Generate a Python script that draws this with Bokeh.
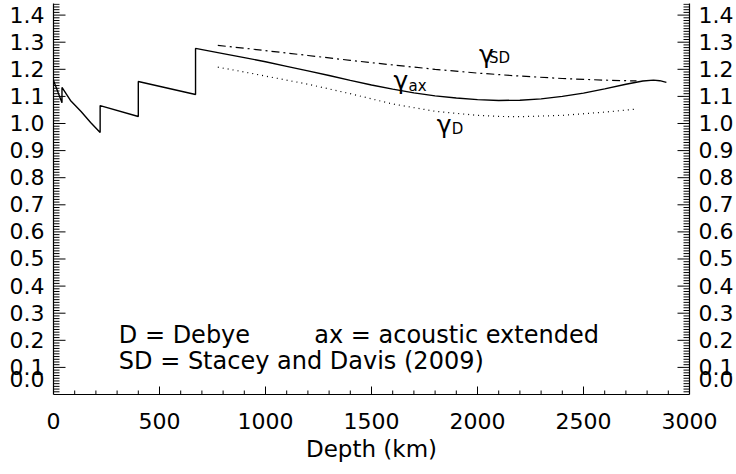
import numpy as np
from bokeh.plotting import figure
from bokeh.models import LinearAxis, SingleIntervalTicker, Range1d, Label, NumeralTickFormatter
from bokeh.embed import file_html
from bokeh.resources import INLINE

# ---- data ----
# gamma_ax (solid): upper mantle segments + lower mantle curve
ax_depth = [0, 40, 40, 80, 130, 175, 220, 220, 400, 400, 670, 670,
            800, 900, 1000, 1100, 1200, 1300, 1400, 1500, 1600, 1700, 1800,
            1900, 2000, 2100, 2200, 2300, 2400, 2500, 2600, 2700, 2780, 2830,
            2860, 2891]
ax_gamma = [1.159, 1.077, 1.133, 1.085, 1.044, 1.004, 0.967, 1.066, 1.026,
            1.155, 1.107, 1.277,
            1.258, 1.243, 1.228, 1.211, 1.194, 1.177, 1.159, 1.142, 1.127,
            1.113, 1.102, 1.094, 1.088, 1.085, 1.086, 1.091, 1.100, 1.112,
            1.128, 1.145, 1.157, 1.160, 1.158, 1.152]

# gamma_SD (dash-dot), Stacey and Davis (2009)
sd_depth = [775, 900, 1000, 1200, 1400, 1600, 1800, 2000, 2200, 2400, 2600, 2750]
sd_gamma = [1.288, 1.278, 1.269, 1.251, 1.233, 1.216, 1.200, 1.186, 1.175,
            1.166, 1.160, 1.157]

# gamma_D (dotted), Debye
d_depth = [775, 900, 1000, 1200, 1400, 1600, 1800, 2000, 2100, 2200, 2400, 2600, 2745]
d_gamma = [1.208, 1.190, 1.175, 1.145, 1.110, 1.072, 1.045, 1.030, 1.026,
           1.025, 1.030, 1.042, 1.053]

X_MAX = 3000
Y_MAX = 1.4428
Y_MAJOR_STEP = 0.1
Y_MINOR_STEP = 0.01
X_MAJOR_STEP = 500
X_MINOR_STEP = 100

FONT = "DejaVu Sans"

W, H = 736, 474
BL, BR, BT, BB = 53, 47, 3, 80

p = figure(width=W, height=H, x_range=Range1d(0, X_MAX),
           y_range=Range1d(0, Y_MAX), output_backend="svg",
           toolbar_location=None, min_border_left=BL, min_border_right=BR,
           min_border_top=BT, min_border_bottom=BB)
p.outline_line_color = None
p.xgrid.visible = False
p.ygrid.visible = False

# inward tick marks: pixel lengths converted to data units of the frame,
# drawn as one NaN-separated polyline
kx = X_MAX / (W - BL - BR)      # km per pixel
ky = Y_MAX / (H - BT - BB)      # gamma per pixel
y_major = [round(v * Y_MAJOR_STEP, 2) for v in range(1, 15)]
y_minor = [round(v * Y_MINOR_STEP, 2) for v in range(1, 145) if v % 10]
x_major = [float(v) for v in range(X_MAJOR_STEP, X_MAX, X_MAJOR_STEP)]
x_minor = [float(v) for v in range(0, X_MAX + 1, X_MINOR_STEP) if v % X_MAJOR_STEP]

nan = float("nan")
tx, ty = [], []
for v in y_major:
    tx += [0.0, 12 * kx, nan, float(X_MAX), X_MAX - 12 * kx, nan]
    ty += [v, v, nan, v, v, nan]
for v in y_minor:
    tx += [0.0, 6 * kx, nan, float(X_MAX), X_MAX - 6 * kx, nan]
    ty += [v, v, nan, v, v, nan]
for v in x_major:
    tx += [v, v, nan]
    ty += [0.0, 8 * ky, nan]
for v in x_minor:
    tx += [v, v, nan]
    ty += [0.0, 4 * ky, nan]
p.line(tx, ty, line_color="black", line_width=1)

p.line(ax_depth, ax_gamma, line_color="black", line_width=1.4)
p.line(sd_depth, sd_gamma, line_color="black", line_width=1.2, line_dash="8 4 2 4")
p.line(d_depth, d_gamma, line_color="black", line_width=1.2, line_dash="1 4")

# x axis
xa = p.xaxis[0]
xa.ticker = SingleIntervalTicker(interval=X_MAJOR_STEP, num_minor_ticks=5)
xa.axis_label = "Depth (km)"
xa.axis_label_text_font = FONT
xa.axis_label_text_font_size = "23px"
xa.axis_label_text_font_style = "normal"
xa.axis_label_standoff = 4
xa.major_label_text_font = FONT
xa.major_label_text_font_size = "22px"
xa.major_label_standoff = 18

def style_y(a):
    a.ticker = SingleIntervalTicker(interval=Y_MAJOR_STEP, num_minor_ticks=10)
    a.formatter = NumeralTickFormatter(format="0.0")
    a.major_label_text_font = FONT
    a.major_label_text_font_size = "22px"
    a.major_label_standoff = 9
    a.major_label_overrides = {0: "0.0\n"}

ya = p.yaxis[0]
style_y(ya)
yr = LinearAxis()
style_y(yr)
p.add_layout(yr, "right")

for a in (xa, ya, yr):
    a.axis_line_color = "black"
    a.axis_line_width = 1.2
    a.major_tick_in = 0
    a.major_tick_out = 0
    a.minor_tick_in = 0
    a.minor_tick_out = 0
    a.major_label_text_color = "black"
    a.axis_label_text_color = "black"

# curve labels
def glabel(x, y, sub_x, sub_y, sub):
    p.add_layout(Label(x=x, y=y, text="γ", text_font=FONT,
                       text_font_size="25px", text_baseline="alphabetic",
                       text_color="black"))
    p.add_layout(Label(x=sub_x, y=sub_y, text=sub, text_font=FONT,
                       text_font_size="15px", text_baseline="alphabetic",
                       text_color="black"))

glabel(1604, 1.159, 1675, 1.140, "ax")
glabel(1808, 0.996, 1879, 0.978, "D")
glabel(2007, 1.253, 2054, 1.240, "SD")

# notes
for nx, ny, t in [(308, 0.220, "D = Debye"),
                  (1230, 0.220, "ax = acoustic extended"),
                  (308, 0.124, "SD = Stacey and Davis (2009)")]:
    p.add_layout(Label(x=nx, y=ny, text=t, text_font=FONT,
                       text_font_size="24px", text_baseline="alphabetic",
                       text_color="black"))

open("out.html", "w").write(file_html(p, INLINE))
